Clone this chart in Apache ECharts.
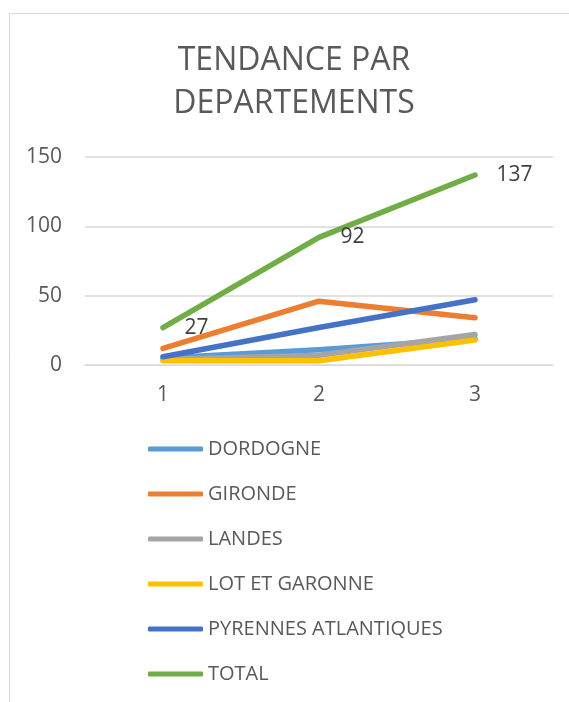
<!DOCTYPE html>
<html>
<head>
<meta charset="utf-8">
<script src="https://cdn.jsdelivr.net/npm/echarts@6/dist/echarts.min.js"></script>
<style>
  html, body { margin: 0; padding: 0; background: #fff; }
  #chart { width: 569px; height: 702px; }
</style>
</head>
<body>
<div id="chart"></div>
<script>
// data
const categories = ['1', '2', '3']
const seriesNames = ['DORDOGNE', 'GIRONDE', 'LANDES', 'LOT ET GARONNE', 'PYRENNES ATLANTIQUES', 'TOTAL']
const dordogne = [5, 11, 19]
const gironde = [12, 46, 34]
const landes = [4, 7, 22]
const lotEtGaronne = [3, 3, 18]
const pyrennes = [6, 27, 47]
const total = [27, 92, 137]
const yTicks = [0, 50, 100, 150]

const colors = ['#5B9BD5', '#ED7D31', '#A5A5A5', '#FFC000', '#4472C4', '#70AD47']
const values = [dordogne, gironde, landes, lotEtGaronne, pyrennes, total]
const font = '"Open Sans", "Noto Sans", sans-serif'

const myChart = echarts.init(document.getElementById('chart'))

const series = seriesNames.map((name, i) => ({
  name: name,
  type: 'line',
  data: values[i],
  symbol: 'circle',
  symbolSize: 1,
  showSymbol: true,
  color: colors[i],
  itemStyle: { color: colors[i] },
  lineStyle: { width: 5.5, color: colors[i], cap: 'round', join: 'round' },
  label: {
    show: name === 'TOTAL',
    position: 'right',
    distance: 21,
    fontFamily: font,
    fontSize: 21,
    color: '#404040'
  },
  animation: false
}))

const option = {
  color: colors,
  title: {
    text: 'TENDANCE PAR\nDEPARTEMENTS',
    left: 289,
    textAlign: 'center',
    top: 34,
    textStyle: {
      fontFamily: font,
      fontSize: 32,
      fontWeight: 'normal',
      lineHeight: 43,
      color: '#595959'
    }
  },
  grid: {
    left: 85,
    right: 16,
    top: 157,
    bottom: 337,
    containLabel: false
  },
  legend: {
    orient: 'vertical',
    left: 148,
    top: 439,
    bottom: 0,
    padding: 0,
    icon: 'roundRect',
    itemWidth: 55,
    itemHeight: 5,
    itemGap: 25,
    textStyle: { fontFamily: font, fontSize: 20, lineHeight: 20, color: '#595959' },
    data: seriesNames
  },
  xAxis: {
    type: 'category',
    data: categories,
    boundaryGap: true,
    axisLine: { lineStyle: { color: '#d9d9d9', width: 1 } },
    axisTick: { show: false },
    axisLabel: { fontFamily: font, fontSize: 21, color: '#595959', margin: 20 }
  },
  yAxis: {
    type: 'value',
    min: yTicks[0],
    max: yTicks[yTicks.length - 1],
    interval: yTicks[1] - yTicks[0],
    axisLine: { show: false },
    axisTick: { show: false },
    axisLabel: { fontFamily: font, fontSize: 21, color: '#595959', margin: 23 },
    splitLine: { lineStyle: { color: '#d9d9d9', width: 1.5 } }
  },
  graphic: [
    {
      type: 'polyline',
      shape: { points: [[9.5, 702], [9.5, 13.5], [569, 13.5]] },
      style: { stroke: '#d9d9d9', lineWidth: 1, fill: null },
      silent: true
    }
  ],
  series: series
}

myChart.setOption(option)
</script>
</body>
</html>
